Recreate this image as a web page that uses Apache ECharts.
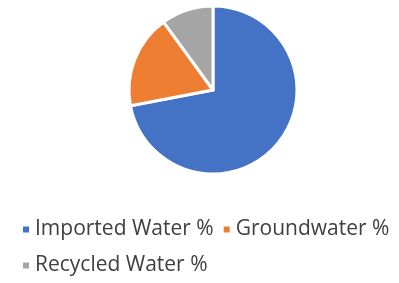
<!DOCTYPE html>
<html>
<head>
<meta charset="utf-8">
<script src="https://cdn.jsdelivr.net/npm/echarts@6/dist/echarts.min.js"></script>
<style>
  html, body { margin: 0; padding: 0; background: #fff; }
  #main { width: 399px; height: 283px; }
</style>
</head>
<body>
<div id="main"></div>
<script>
var names = ['Imported Water %', 'Groundwater %', 'Recycled Water %'];
var values = [72, 18, 10];
var colors = ['#4472C4', '#ED7D31', '#A5A5A5'];

var chart = echarts.init(document.getElementById('main'));
var legendText = { fontFamily: 'Open Sans', fontSize: 21, color: '#404040' };
chart.setOption({
    animation: false,
    legend: [
        {
            data: [names[0], names[1]],
            left: 16, top: 214,
            icon: 'rect', itemWidth: 8, itemHeight: 8, itemGap: 8,
            textStyle: legendText
        },
        {
            data: [names[2]],
            left: 16, top: 250,
            icon: 'rect', itemWidth: 8, itemHeight: 8,
            textStyle: legendText
        }
    ],
    series: [
        {
            type: 'pie',
            center: [213, 90],
            radius: 84,
            startAngle: 90,
            label: { show: false },
            labelLine: { show: false },
            itemStyle: { borderColor: '#fff', borderWidth: 3 },
            data: names.map(function (n, i) {
                return { name: n, value: values[i], itemStyle: { color: colors[i] } };
            })
        }
    ]
});
</script>
</body>
</html>
